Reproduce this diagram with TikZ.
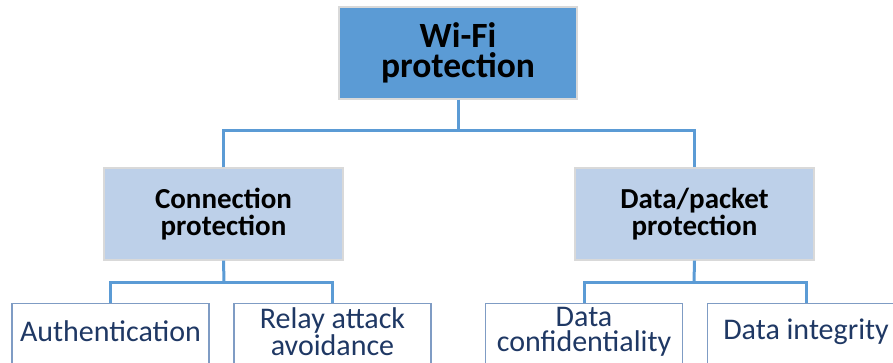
\documentclass[tikz,border=0pt]{standalone}
\usepackage{fontspec}
\setmainfont{Carlito}
\definecolor{rootfill}{HTML}{5B9BD5}
\definecolor{midfill}{HTML}{BDD0E9}
\definecolor{wire}{HTML}{5B9BD5}
\definecolor{leafline}{HTML}{7F9CC4}
\definecolor{leafink}{HTML}{1F3864}
\definecolor{edgegray}{HTML}{D9D9D9}
\tikzset{
  rootbox/.style={draw=edgegray, line width=1.2pt, fill=rootfill, minimum width=238pt, minimum height=92pt,
    align=center, inner sep=0pt, font=\fontsize{35.5}{30}\selectfont\bfseries},
  midbox/.style={draw=edgegray, line width=1.2pt, fill=midfill, minimum width=239pt, minimum height=92pt,
    align=center, inner sep=0pt, font=\fontsize{29}{27}\selectfont\bfseries},
  leafbox/.style={draw=leafline, line width=1.1pt, fill=white, minimum width=197pt, minimum height=90pt,
    anchor=north, inner sep=0pt},
  leaftext/.style={align=center, inner sep=0pt, text=leafink, font=\fontsize{30}{25}\selectfont},
  wire/.style={draw=wire, line width=3pt}
}
\begin{document}
\begin{tikzpicture}[x=1pt, y=-1pt]
  \useasboundingbox (0,0) rectangle (893,362);
  \clip (0,0) rectangle (893,362);
  % top level
  \node[rootbox] (root) at (458,53) {Wi-Fi\\protection};
  % second level
  \node[midbox] (conn) at (223.5,214) {Connection\\protection};
  \node[midbox] (data) at (694.5,214) {Data/packet\\protection};
  % leaves (their lower edges run off the bottom)
  \node[leafbox] (auth) at (110.5,303) {};
  \node[leafbox] (relay) at (332.5,303) {};
  \node[leafbox] (conf) at (584,303) {};
  \node[leafbox] (integ) at (806,303) {};
  \node[leaftext] (authT) at ([yshift=-28.5pt]auth.north) {Authentication};
  \node[leaftext] (relayT) at ([yshift=-28.5pt]relay.north) {Relay attack\\avoidance};
  \node[leaftext] (confT) at ([yshift=-28.5pt]conf.north) {Data\\confidentiality};
  \node[leaftext] (integT) at ([yshift=-28.5pt]integ.north) {Data integrity};
  % connectors
  \coordinate (j0) at (458,130);
  \coordinate (j1) at (224,282);
  \coordinate (j2) at (694,282);
  \draw[wire] (root.south) -- (j0);
  \draw[wire] (conn.north) |- (j0) -| (data.north);
  \draw[wire] (conn.south) -- (j1);
  \draw[wire] (auth.north) |- (j1) -| (relay.north);
  \draw[wire] (data.south) -- (j2);
  \draw[wire] (conf.north) |- (j2) -| (integ.north);
\end{tikzpicture}
\end{document}
